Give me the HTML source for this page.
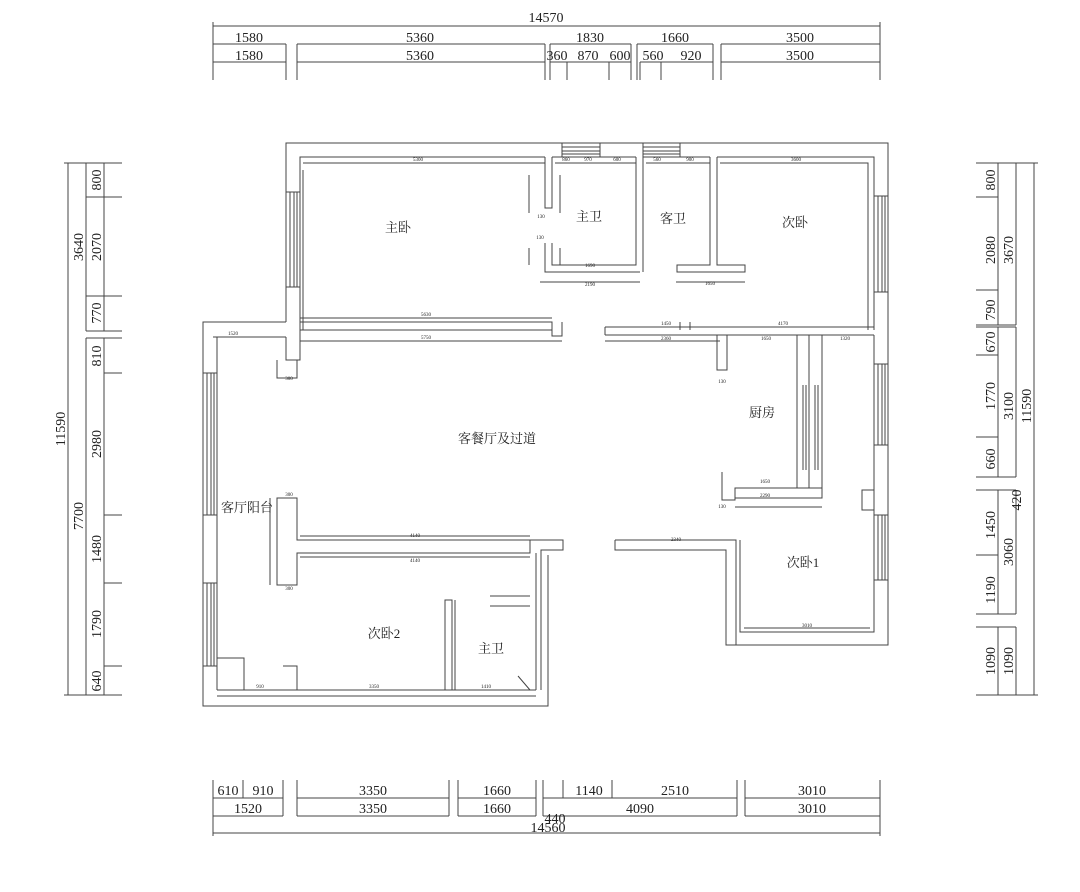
<!DOCTYPE html>
<html><head><meta charset="utf-8"><style>
html,body{margin:0;padding:0;background:#fff;}
svg{display:block}
text{font-family:"Liberation Serif","Noto Serif CJK SC",serif;fill:#222}
.d{font-size:14px}
.s{font-size:5px;fill:#444;font-family:"Liberation Sans",sans-serif}
.r{font-size:13px}
</style></head><body>
<svg width="1080" height="892" viewBox="0 0 1080 892" xmlns="http://www.w3.org/2000/svg">
<g stroke="#444" stroke-width="1" fill="none">
<!-- top dims -->
<line x1="213" y1="26" x2="880" y2="26"/>
<line x1="213" y1="44" x2="286" y2="44"/><line x1="297" y1="44" x2="545" y2="44"/><line x1="550" y1="44" x2="631" y2="44"/><line x1="637" y1="44" x2="713" y2="44"/><line x1="721" y1="44" x2="880" y2="44"/>
<line x1="213" y1="62" x2="286" y2="62"/><line x1="297" y1="62" x2="545" y2="62"/><line x1="550" y1="62" x2="631" y2="62"/><line x1="640" y1="62" x2="713" y2="62"/><line x1="721" y1="62" x2="880" y2="62"/>
<path d="M213 22V80M286 44V80M297 44V80M545 44V80M550 44V80M567 62V80M609 62V80M631 44V80M637 44V80M640 62V80M661 62V80M713 44V80M721 44V80M880 22V80"/>
<!-- bottom dims -->
<line x1="213" y1="798" x2="283" y2="798"/><line x1="297" y1="798" x2="449" y2="798"/><line x1="458" y1="798" x2="536" y2="798"/><line x1="543" y1="798" x2="737" y2="798"/><line x1="745" y1="798" x2="880" y2="798"/>
<line x1="213" y1="816" x2="283" y2="816"/><line x1="297" y1="816" x2="449" y2="816"/><line x1="458" y1="816" x2="536" y2="816"/><line x1="543" y1="816" x2="737" y2="816"/><line x1="745" y1="816" x2="880" y2="816"/>
<line x1="213" y1="833" x2="880" y2="833"/>
<path d="M213 780V836M243 780V798M283 780V816M297 780V816M449 780V816M458 780V816M536 780V816M543 780V816M563 780V798M612 780V798M737 780V816M745 780V816M880 780V836"/>
<!-- left dims -->
<line x1="68" y1="163" x2="68" y2="695"/>
<line x1="86" y1="163" x2="86" y2="331"/><line x1="86" y1="338" x2="86" y2="695"/>
<line x1="104" y1="163" x2="104" y2="331"/><line x1="104" y1="338" x2="104" y2="695"/>
<path d="M64 163H122M64 695H122M86 197H122M86 296H122M86 331H122M86 338H122M104 373H122M104 515H122M104 583H122M104 666H122"/>
<!-- right dims -->
<line x1="1034" y1="163" x2="1034" y2="695"/>
<line x1="1016" y1="163" x2="1016" y2="325"/><line x1="1016" y1="327" x2="1016" y2="477"/><line x1="1016" y1="490" x2="1016" y2="614"/><line x1="1016" y1="627" x2="1016" y2="695"/>
<line x1="998" y1="163" x2="998" y2="325"/><line x1="998" y1="327" x2="998" y2="477"/><line x1="998" y1="490" x2="998" y2="614"/><line x1="998" y1="627" x2="998" y2="695"/>
<path d="M976 163H1038M976 695H1038M976 197H998M976 290H998M976 325H1016M976 327H1016M976 355H998M976 437H998M976 477H1016M976 490H1016M976 555H998M976 614H1016M976 627H1016"/>

<!-- outer walls -->
<path d="M286 322V143H888V645H726V560"/>
<path d="M286 322H203V706H548V555"/>
<path d="M300 330V157H545M552 157H636M643 157H710M717 157H874V330"/>
<!-- inner dim lines upper -->
<path d="M303 163H545M303 170V330M555 163H636M646 163H710M720 163H868V330"/>
<!-- left window upper -->
<rect x="286" y="192" width="14" height="95"/><path d="M290 192V287M294 192V287M297 192V287"/>
<!-- right window upper -->
<rect x="874" y="196" width="14" height="96"/><path d="M878 196V292M882 196V292M885 196V292"/>
<!-- top windows -->
<rect x="562" y="143" width="38" height="14"/><path d="M562 147H600M562 151H600M562 154H600"/>
<rect x="643" y="143" width="37" height="14"/><path d="M643 147H680M643 151H680M643 154H680"/>
<!-- partitions upper -->
<path d="M545 157V208H552V157"/>
<path d="M545 243V272H640M552 243V265H636V157M643 157V272H643"/>
<path d="M529 175V213M560 175V213M529 248V265M560 248V265M540 282H640"/>
<path d="M710 157V265H677V272H745V265H717V157"/>
<path d="M676 282H745"/>
<!-- horizontal walls -->
<path d="M300 322H552V330H300M552 330V336H562V322"/>
<path d="M300 318H552M300 341H562"/>
<path d="M605 327H874M605 335H874M605 327V335M605 341H720"/>
<path d="M680 322V330M690 322V330"/>
<!-- left extension -->
<path d="M217 690V337H286M286 337V360H300V330"/>
<path d="M213 337H286M277 360V378H297V360"/>
<rect x="203" y="373" width="14" height="142"/><path d="M207 373V515M211 373V515M214 373V515"/>
<rect x="203" y="583" width="14" height="83"/><path d="M207 583V666M211 583V666M214 583V666"/>
<!-- T wall -->
<path d="M277 498H297V540H530V553H297V585H277Z"/>
<path d="M300 536H530M300 557H530M270 498V585"/>
<path d="M530 540H563V550H541V690"/>
<path d="M548 555V706M536 553V690"/>
<!-- bottom bedroom2 -->
<path d="M217 690H536M217 696H536"/>
<path d="M217 658H244V690M283 666H297V690"/>
<path d="M445 690V600H452V690M455 600V690H458"/>
<path d="M490 596H530M490 606H530M518 676L530 690"/>
<!-- right: kitchen -->
<path d="M717 335V370H727V335"/>
<path d="M797 335V488M809 335V488M822 335V498"/>
<path d="M803 385V470M806 385V470M815 385V470M818 385V470"/>
<path d="M722 472V500H735V488H822V498H735"/>
<path d="M735 507H822"/>
<!-- 次卧1 -->
<path d="M615 540H736V645M615 540V550H726V645"/>
<path d="M740 540V632H874V335"/>
<path d="M744 628H870"/>
<rect x="874" y="364" width="14" height="81"/><path d="M878 364V445M882 364V445M885 364V445"/>
<rect x="874" y="515" width="14" height="65"/><path d="M878 515V580M882 515V580M885 515V580"/>
<path d="M862 490H874V510H862Z"/>
</g>
<!-- dims text -->
<text class="d" x="546" y="22" text-anchor="middle">14570</text>
<g class="d" text-anchor="middle">
<text x="249" y="42">1580</text><text x="420" y="42">5360</text><text x="590" y="42">1830</text><text x="675" y="42">1660</text><text x="800" y="42">3500</text>
<text x="249" y="60">1580</text><text x="420" y="60">5360</text><text x="557" y="60">360</text><text x="588" y="60">870</text><text x="620" y="60">600</text><text x="653" y="60">560</text><text x="691" y="60">920</text><text x="800" y="60">3500</text>
<text x="228" y="795">610</text><text x="263" y="795">910</text><text x="373" y="795">3350</text><text x="497" y="795">1660</text><text x="589" y="795">1140</text><text x="675" y="795">2510</text><text x="812" y="795">3010</text>
<text x="248" y="813">1520</text><text x="373" y="813">3350</text><text x="497" y="813">1660</text><text x="640" y="813">4090</text><text x="812" y="813">3010</text>
<text x="555" y="823">440</text><text x="548" y="832">14560</text>
</g>
<g class="d" text-anchor="middle">
<text transform="translate(65,429) rotate(-90)">11590</text>
<text transform="translate(83,247) rotate(-90)">3640</text>
<text transform="translate(83,516) rotate(-90)">7700</text>
<text transform="translate(101,180) rotate(-90)">800</text>
<text transform="translate(101,247) rotate(-90)">2070</text>
<text transform="translate(101,313) rotate(-90)">770</text>
<text transform="translate(101,356) rotate(-90)">810</text>
<text transform="translate(101,444) rotate(-90)">2980</text>
<text transform="translate(101,549) rotate(-90)">1480</text>
<text transform="translate(101,624) rotate(-90)">1790</text>
<text transform="translate(101,681) rotate(-90)">640</text>
<text transform="translate(995,180) rotate(-90)">800</text>
<text transform="translate(995,250) rotate(-90)">2080</text>
<text transform="translate(1013,250) rotate(-90)">3670</text>
<text transform="translate(995,310) rotate(-90)">790</text>
<text transform="translate(995,342) rotate(-90)">670</text>
<text transform="translate(995,396) rotate(-90)">1770</text>
<text transform="translate(1013,406) rotate(-90)">3100</text>
<text transform="translate(1031,406) rotate(-90)">11590</text>
<text transform="translate(995,459) rotate(-90)">660</text>
<text transform="translate(1021,500) rotate(-90)">420</text>
<text transform="translate(995,525) rotate(-90)">1450</text>
<text transform="translate(1013,552) rotate(-90)">3060</text>
<text transform="translate(995,590) rotate(-90)">1190</text>
<text transform="translate(995,661) rotate(-90)">1090</text>
<text transform="translate(1013,661) rotate(-90)">1090</text>
</g>
<!-- room labels -->
<g class="r" text-anchor="middle">
<text x="398" y="232">主卧</text><text x="589" y="221">主卫</text><text x="673" y="223">客卫</text><text x="795" y="227">次卧</text>
<text x="497" y="443">客餐厅及过道</text><text x="762" y="417">厨房</text><text x="247" y="512">客厅阳台</text>
<text x="384" y="638">次卧2</text><text x="491" y="653">主卫</text><text x="803" y="567">次卧1</text>
</g>
<!-- small labels -->
<g class="s" text-anchor="middle">
<text x="418" y="161">5300</text><text x="566" y="161">860</text><text x="588" y="161">970</text><text x="617" y="161">600</text><text x="657" y="161">560</text><text x="690" y="161">900</text><text x="796" y="161">3600</text>
<text x="426" y="316">5630</text><text x="426" y="339">5750</text><text x="233" y="335">1520</text><text x="666" y="325">1450</text><text x="783" y="325">4170</text><text x="666" y="340">2360</text><text x="766" y="340">1650</text><text x="845" y="340">1320</text>
<text x="541" y="218">130</text><text x="540" y="239">130</text><text x="590" y="267">1690</text><text x="590" y="286">2190</text><text x="710" y="285">1650</text>
<text x="415" y="537">4140</text><text x="415" y="562">4140</text><text x="289" y="496">300</text><text x="289" y="590">300</text>
<text x="374" y="688">3350</text><text x="260" y="688">910</text><text x="486" y="688">1410</text>
<text x="765" y="483">1650</text><text x="765" y="497">2290</text><text x="676" y="541">2340</text><text x="807" y="627">3010</text>
<text x="722" y="383">130</text><text x="722" y="508">130</text><text x="289" y="380">300</text>
</g>
</svg>
</body></html>
